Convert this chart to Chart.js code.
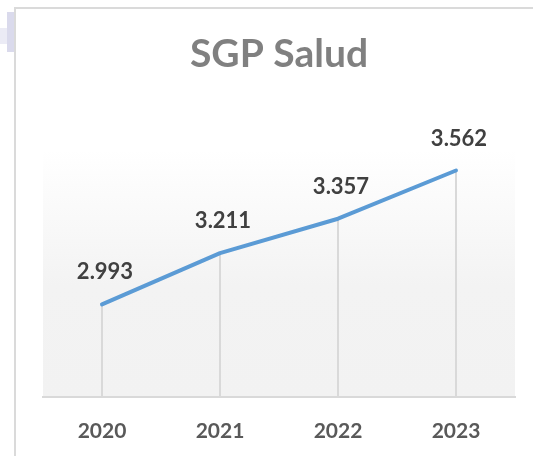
<!DOCTYPE html>
<html>
<head>
<meta charset="utf-8">
<script src="https://cdn.jsdelivr.net/npm/chart.js@4"></script>
<style>
  html, body { margin: 0; padding: 0; background: #fff; }
  #wrap { position: relative; width: 533px; height: 456px; overflow: hidden; }
  #frame { position: absolute; left: 14px; top: 7px; right: -4px; bottom: -4px;
           border-left: 2px solid #dadada; border-top: 2px solid #dadada; }
  .sel { position: absolute; background: #dadaec; }
  canvas { position: absolute; left: 0; top: 0; }
</style>
</head>
<body>
<div id="wrap">
  <div class="sel" style="left:7px;top:12px;width:7px;height:40px"></div>
  <div class="sel" style="left:0;top:28px;width:7px;height:16px;background:#ebebf5"></div>
  <div id="frame"></div>
  <canvas id="c" width="533" height="456"></canvas>
</div>
<script>
// Yearly SGP health allocation
const years = ['2020', '2021', '2022', '2023'];
const sgpSalud = [2993, 3211, 3357, 3562];
const yMin = 2600;
const yMax = 3650;

const FONT = 'Lato, "Open Sans", sans-serif';

// Spanish-style thousands separator: 2993 -> "2.993"
function fmt(v) {
  return String(v).replace(/\B(?=(\d{3})+(?!\d))/g, '.');
}

// Soft vertical gradient behind the plot area
const plotBackground = {
  id: 'plotBackground',
  beforeDraw(chart) {
    const { ctx, chartArea: a } = chart;
    const g = ctx.createLinearGradient(0, a.top, 0, a.bottom);
    g.addColorStop(0, '#ffffff');
    g.addColorStop(0.55, '#f3f3f3');
    g.addColorStop(1, '#f2f2f2');
    ctx.save();
    ctx.fillStyle = g;
    ctx.fillRect(a.left, a.top, a.right - a.left, a.bottom - a.top);
    ctx.restore();
  }
};

// Vertical drop lines from each point down to the category axis
const dropLines = {
  id: 'dropLines',
  beforeDatasetsDraw(chart) {
    const { ctx, chartArea: a } = chart;
    const meta = chart.getDatasetMeta(0);
    ctx.save();
    ctx.strokeStyle = '#d9d9d9';
    ctx.lineWidth = 2;
    meta.data.forEach(pt => {
      ctx.beginPath();
      ctx.moveTo(pt.x, pt.y);
      ctx.lineTo(pt.x, a.bottom);
      ctx.stroke();
    });
    ctx.restore();
  }
};

// Value labels above each point
const valueLabels = {
  id: 'valueLabels',
  afterDatasetsDraw(chart) {
    const { ctx } = chart;
    const meta = chart.getDatasetMeta(0);
    const data = chart.data.datasets[0].data;
    ctx.save();
    ctx.font = 'bold 22px ' + FONT;
    ctx.fillStyle = '#404040';
    ctx.textAlign = 'center';
    ctx.textBaseline = 'alphabetic';
    meta.data.forEach((pt, i) => {
      ctx.fillText(fmt(data[i]), pt.x + 3, pt.y - 25);
    });
    ctx.restore();
  }
};

new Chart(document.getElementById('c'), {
  type: 'line',
  data: {
    labels: years,
    datasets: [{
      label: 'SGP Salud',
      data: sgpSalud,
      borderColor: '#5b9bd5',
      borderWidth: 4,
      borderCapStyle: 'round',
      borderJoinStyle: 'round',
      pointRadius: 0,
      pointHoverRadius: 0,
      tension: 0,
      fill: false
    }]
  },
  options: {
    responsive: false,
    devicePixelRatio: 1,
    animation: false,
    events: [],
    layout: { padding: { left: 43, right: 18, top: 0, bottom: -10 } },
    plugins: {
      legend: { display: false },
      tooltip: { enabled: false },
      title: {
        display: true,
        text: 'SGP Salud',
        color: '#808080',
        font: { family: FONT, size: 39, weight: 'bold' },
        padding: { top: 31, bottom: 72 }
      }
    },
    scales: {
      x: {
        type: 'category',
        offset: true,
        grid: { display: false, drawTicks: false },
        border: { display: true, color: '#d9d9d9', width: 2 },
        ticks: {
          color: '#595959',
          font: { family: FONT, size: 21, weight: 'bold' },
          padding: 22,
          maxRotation: 0
        }
      },
      y: {
        display: false,
        min: yMin,
        max: yMax
      }
    }
  },
  plugins: [plotBackground, dropLines, valueLabels]
});
</script>
</body>
</html>
